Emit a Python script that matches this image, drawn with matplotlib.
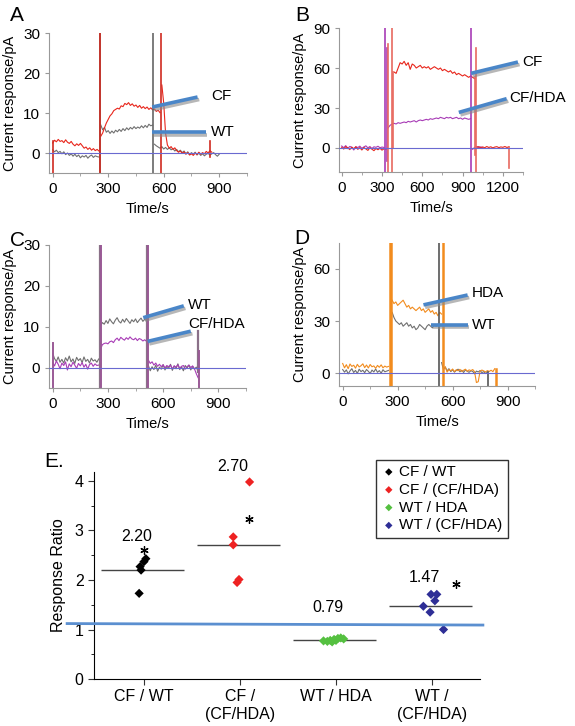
import numpy as np
import matplotlib.pyplot as plt
import matplotlib.patheffects as pe

plt.rcParams["font.family"] = ["Liberation Sans", "DejaVu Sans"]

RED = "#e8261c"
GRAY = "#707070"
PURPLE = "#a83cb6"
ORANGE = "#f28c1e"
TAGBLUE = "#4a86c8"
ZERO = "#6a6ad0"

# ---- panel A (WT vs CF), 10 s sampling ----
a_cf_t0 = [0, 260, 590]
a_cf = [
    [2.5, 3.2, 2.8, 3.4, 2.9, 3.1, 2.6, 3.3, 2.7, 2.4, 2.9, 2.2, 1.8, 2.3, 1.9, 2.4,
     1.8, 1.2, 1.5, 0.9, 1.3, 0.7, 1.1, 0.6, 0.9, 0.5],
    [4.2, 5.0, 6.3, 7.5, 8.4, 9.3, 9.8, 10.6, 10.9, 11.2, 11.0, 11.8, 11.6, 12.4, 12.1,
     12.6, 11.9, 12.3, 11.7, 12.0, 11.4, 11.9, 11.2, 11.6, 11.1, 11.5, 10.9, 11.3, 10.8,
     11.0, 10.4, 10.7, 10.1],
    [17.0, 12.5, 5.0, 2.0, 1.2, 1.6, 0.9, 1.3, 0.6, 0.2, 0.5, -0.1, 0.3, -0.3, 0.1, -0.5,
     -0.2, -0.6, 0.0, -0.4, 0.2, -0.3, 0.1, -0.2, 0.4, 0.0, 0.6, 0.2],
]
a_wt_t0 = [0, 260, 550]
a_wt = [
    [0.8, 0.3, 0.7, 0.1, 0.4, -0.2, 0.3, -0.4, 0.0, -0.6, -0.2, -0.8, -0.3, -0.9, -0.5,
     -1.2, -0.7, -1.0, -0.6, -1.3, -0.8, -0.5, -1.1, -0.7, -0.9, -1.0],
    [7.0, 5.8, 6.4, 5.2, 5.6, 4.9, 5.5, 5.0, 5.7, 5.3, 5.9, 5.4, 6.1, 5.6, 6.3, 5.8, 6.4,
     6.0, 6.6, 6.1, 6.5, 6.2, 6.8, 6.3, 6.9, 6.4, 7.2, 6.8, 7.0],
    [2.2, 1.8, 1.5, 1.2, 1.6, 1.0, 1.4, 0.9, 1.3, 0.8, 1.1, 0.5, 0.9, 0.3, 0.7, 0.1, 0.5,
     -0.2, 0.3, -0.4, 0.1, -0.3, 0.2, -0.5, 0.0, -0.6, -0.2, -0.7, -0.3, -0.1, -0.5, -0.2,
     0.1, -0.4, -0.8, -0.3],
]
a_cf_spikes = [(0, -5, 3), (255, -5, 30), (588, -5, 30), (850, -1, 3)]
a_wt_spikes = [(258, -5, 30), (540, -5, 30)]

# ---- panel B (CF vs CF/HDA), 15 s sampling ----
b_cf_t0 = [0, 390, 1005]
b_cf = [
    [0.5, -0.8, 1.0, 0.2, -1.2, 0.6, -0.5, 0.9, -1.0, 0.3, -1.5, 0.4, -0.7, -1.8, 0.2,
     -0.9, -2.0, -0.4, -1.3, -0.2, -1.6, -0.6, -1.0],
    [57, 56, 60, 64, 63, 65, 62, 64, 59, 63, 62, 60, 61, 62, 60, 61, 60, 61, 59, 60, 61,
     60, 59, 60, 58, 59, 58, 57, 58, 56, 57, 55, 56, 55, 54, 55, 54, 53, 54, 53, 52],
    [0.5, 1.0, 0.3, 0.8, 0.2, 1.1, 0.4, 0.9, 0.1, 0.7, 1.0, 0.3, 0.8, 0.5, 1.1, 0.4, 0.9],
]
b_hda_t0 = [0, 345, 975]
b_hda = [
    [1.5, 0.2, 1.8, -0.5, 1.2, 0.6, -1.5, 1.0, 0.3, 1.4, -0.3, 0.8, 1.6, 0.1, 1.1, -0.4,
     0.9, 0.5, 1.3, 0.2, 0.7, 0.4],
    [15, 17, 18, 18.5, 18, 19, 18.5, 19, 19.5, 19, 20, 19.5, 20, 20.5, 19.5, 20.5, 21,
     20.5, 21, 21.5, 21, 22, 21.5, 22, 22.5, 22, 23, 22.5, 22, 23, 22.5, 23, 22, 22.5, 23,
     22, 22.5, 21.5, 22.5, 22, 21.5, 22],
    [-1.0, 0.5, 1.2, 0.3, 0.8, 0.2],
]
b_cf_spikes = [(345, -18, 78), (372, -18, 90), (380, 0, 57), (993, -5, 53),
               (1003, -18, 75), (1248, -15, 1)]
b_hda_spikes = [(322, -18, 90), (335, -10, 75), (966, -18, 90)]

# ---- panel C (WT vs CF/HDA), 10 s sampling ----
c_wt_t0 = [0, 260, 520]
c_wt = [
    [3.5, 2.2, 1.5, 2.6, 1.3, 2.0, 1.1, 2.4, 1.6, 2.8, 1.4, 2.1, 1.0, 2.5, 1.7, 2.2, 1.2,
     2.6, 1.5, 2.0, 1.1, 2.3, 1.6, 1.9, 1.3, 2.1],
    [10.2, 11.0, 10.6, 11.5, 10.8, 11.9, 11.2, 10.7, 11.6, 12.2, 11.3, 10.9, 11.8, 11.1,
     12.0, 11.4, 10.8, 11.7, 11.2, 11.9, 11.0, 11.6, 12.1, 11.3, 11.8, 11.5],
    [0.5, -0.8, 0.2, -0.5, 0.6, -0.9, 0.1, -0.4, 0.7, -0.6, 0.3, -0.2, 0.8, -0.7, 0.4,
     -0.3, 0.9, -0.5, 0.2, -0.8, 0.5, -0.1, 0.6, -0.6, 0.3, -0.4, 0.1, -0.9],
]
c_hda_t0 = [0, 260, 520]
c_hda = [
    [1.2, 0.4, 1.6, 0.8, -0.3, 1.1, 0.5, 1.4, -0.6, 0.9, 0.2, 1.3, 0.6, -0.2, 1.0, 0.4,
     1.2, 0.1, 0.8, -0.4, 0.7, 1.1, 0.3, 0.9, 0.5, 0.6],
    [4.5, 5.6, 5.9, 6.0, 5.8, 6.3, 6.5, 6.1, 6.8, 7.2, 6.6, 7.4, 7.0, 6.7, 7.3, 6.9, 7.5,
     7.0, 6.8, 7.2, 6.6, 7.1, 6.9, 6.5, 6.8, 6.4],
    [1.8, 1.0, 1.4, 0.6, 1.1, 0.3, 0.8, 0.2, 0.7, -0.1, 0.5, 0.2, 0.6, -0.3, 0.4, 0.1,
     0.7, -0.2, 0.3, 0.5, -0.4, 0.2, 0.6, 0.0, 0.4, -0.3, -1.5, -2.5],
]
c_wt_spikes = [(256, -5, 30), (514, -5, 30), (788, -1, 9)]
c_hda_spikes = [(0, -5, 6), (260, -5, 30), (519, -5, 30), (795, -5, 4)]

# ---- panel D (WT vs HDA), 10 s sampling ----
d_hda_t0 = [0, 270, 560]
d_hda = [
    [5.5, 3.0, 4.8, 2.5, 5.2, 3.8, 4.5, 2.8, 5.0, 3.5, 4.2, 5.3, 3.1, 4.6, 2.9, 4.9, 3.6,
     4.1, 2.7, 4.4, 3.3, 4.7, 3.0, 4.0, 3.4, 3.8],
    [42, 40, 41, 39, 40, 41, 42, 40, 38, 39, 37, 38, 37, 36, 37, 38, 36, 37, 35, 36, 37,
     35, 36, 34, 35, 33, 35, 34],
    [3.5, 0.5, 2.0, 1.2, 2.3, 0.8, 1.9, 1.3, 2.1, 0.9, 1.6, 2.2, 1.0, 1.8, 1.4, 2.0, 0.7,
     -5.5, -5.0, 1.1, 1.7, 1.2, 0.6, 1.4, 0.9, 1.6, 0.8, 2.5],
]
d_wt_t0 = [0, 270, 540]
d_wt = [
    [2.0, 0.5, 1.8, -0.5, 1.2, 2.5, 0.3, 1.5, -0.2, 2.2, 0.8, 1.6, 0.2, 2.0, 1.0, -0.3,
     1.7, 0.6, 2.3, 0.4, 1.4, -0.1, 1.9, 0.7, 1.1, 1.5],
    [35, 32, 30, 29, 28, 29, 27, 28, 29, 27, 28, 26, 27, 25, 26, 28, 27, 26, 25, 27, 28,
     27, 26, 28, 27, 28],
    [6.0, 2.0, 3.5, 1.2, 2.5, 0.8, 1.9, 0.5, 1.5, 2.2, 0.7, 1.6, 0.3, 1.8, 1.0, 0.4, 1.3,
     0.9, -0.5, 1.1, 0.6, 1.4, 0.2, 0.8, -0.3, 0.5],
]
d_hda_spikes = [(260, -7.5, 75), (265, -7.5, 75), (546, -7.5, 75), (835, -7.5, 2.5)]
d_wt_spikes = [(262, 0, 75), (528, -7.5, 75), (792, -7.5, 0.5)]

# ---- panel E ----
groups = ["CF / WT", "CF /\n(CF/HDA)", "WT / HDA", "WT /\n(CF/HDA)"]
legend_names = ["CF / WT", "CF / (CF/HDA)", "WT / HDA", "WT / (CF/HDA)"]
group_colors = ["black", "#ee2222", "#55c040", "#2e2e96"]
jitter = [
    [-0.05, -0.04, -0.03, 0.0, 0.02],
    [-0.07, -0.07, -0.03, -0.01, 0.10],
    [-0.13, -0.09, -0.06, -0.04, -0.02, 0.0, 0.02, 0.05, 0.08],
    [-0.09, -0.02, -0.01, 0.05, 0.03, 0.12],
]
ratios = [
    [1.73, 2.27, 2.20, 2.37, 2.43],
    [2.87, 2.71, 1.95, 2.01, 3.98],
    [0.77, 0.76, 0.78, 0.75, 0.80, 0.78, 0.82, 0.83, 0.81],
    [1.47, 1.35, 1.71, 1.71, 1.58, 1.00],
]
means = [2.20, 2.70, 0.79, 1.47]
mean_label_y = [2.87, 4.30, 1.45, 2.06]
stars = [(0.0, 2.60), (1.09, 3.24), (3.25, 1.92)]


def traces(ax, starts, segs, color, step):
    for t0, vals in zip(starts, segs):
        t = t0 + step * np.arange(len(vals))
        ax.plot(t, vals, color=color, lw=0.8)


def spikes(ax, items, color, lw=1.2):
    for t, lo, hi in items:
        ax.plot([t, t], [lo, hi], color=color, lw=lw)


def tag(ax, x0, y0, x1, y1, text, tx, ty):
    ax.plot([x0, x1], [y0, y1], color=TAGBLUE, lw=2.6, solid_capstyle="butt",
            clip_on=False, zorder=5,
            path_effects=[pe.SimpleLineShadow(offset=(1.2, -1.8), shadow_color="#888",
                                              alpha=0.6), pe.Normal()])
    ax.text(tx, ty, text, fontsize=11, ha="left", va="center", clip_on=False)


def setup(ax, xlim, ylim, xticks, yticks):
    ax.set_xlim(xlim)
    ax.set_ylim(ylim)
    ax.set_xticks(xticks)
    ax.set_xticks([x + 150 for x in xticks], minor=True)
    ax.set_yticks(yticks)
    for s in ["top", "right"]:
        ax.spines[s].set_visible(False)
    for s in ["left", "bottom"]:
        ax.spines[s].set_color("#999999")
        ax.spines[s].set_linewidth(0.8)
    ax.tick_params(labelsize=11, color="#999999", length=3, width=0.8)
    ax.tick_params(which="minor", color="#999999", length=2, width=0.6)
    ax.axhline(0, color=ZERO, lw=0.8, zorder=4)
    ax.set_xlabel("Time/s", fontsize=10.5)
    ax.set_ylabel("Current response/pA", fontsize=10.5)


fig = plt.figure(figsize=(5.75, 7.26), dpi=100)

# A
ax = fig.add_axes([0.0852, 0.7617, 0.3443, 0.1928])
setup(ax, (-20, 950), (-5, 30), [0, 300, 600, 900], [0, 10, 20, 30])
traces(ax, a_wt_t0, a_wt, GRAY, 10)
traces(ax, a_cf_t0, a_cf, RED, 10)
spikes(ax, a_wt_spikes, "#666666")
spikes(ax, a_cf_spikes, "#d02a20")
tag(ax, 538, 11.5, 783, 14, "CF", 856, 14.3)
tag(ax, 538, 5.2, 826, 5.2, "WT", 856, 5.2)
fig.text(0.03, 0.979, "A", fontsize=15, ha="center", va="center")

# B
ax = fig.add_axes([0.5896, 0.7631, 0.3200, 0.1983])
setup(ax, (-20, 1265), (-18, 90), [0, 300, 600, 900, 1200], [0, 30, 60, 90])
traces(ax, b_hda_t0, b_hda, PURPLE, 15)
traces(ax, b_cf_t0, b_cf, RED, 15)
spikes(ax, b_hda_spikes, PURPLE)
spikes(ax, b_cf_spikes, "#e86a60")
tag(ax, 963, 56, 1312, 64.5, "CF", 1345, 64.5)
tag(ax, 872, 26.7, 1228, 37, "CF/HDA", 1245, 37.5)
fig.text(0.525, 0.979, "B", fontsize=15, ha="center", va="center")

# C
ax = fig.add_axes([0.0852, 0.4656, 0.3426, 0.1970])
setup(ax, (-20, 905), (-5, 30), [0, 300, 600, 900], [0, 10, 20, 30])
traces(ax, c_wt_t0, c_wt, GRAY, 10)
traces(ax, c_hda_t0, c_hda, PURPLE, 10)
spikes(ax, c_wt_spikes, "#8a7088", lw=1.6)
spikes(ax, c_hda_spikes, "#9a5a96", lw=1.4)
tag(ax, 492, 12.2, 712, 15.1, "WT", 735, 15.4)
tag(ax, 516, 6.4, 750, 8.9, "CF/HDA", 735, 10.6)
fig.text(0.03, 0.669, "C", fontsize=15, ha="center", va="center")

# D
ax = fig.add_axes([0.5896, 0.4683, 0.3409, 0.1970])
setup(ax, (-20, 900), (-7.5, 75), [0, 300, 600, 900], [0, 30, 60])
traces(ax, d_wt_t0, d_wt, GRAY, 10)
traces(ax, d_hda_t0, d_hda, ORANGE, 10)
spikes(ax, d_wt_spikes, "#555555")
spikes(ax, d_hda_spikes, ORANGE, lw=1.8)
tag(ax, 441, 39.3, 682, 45, "HDA", 705, 46)
tag(ax, 482, 27.7, 682, 27.7, "WT", 705, 27.7)
fig.text(0.525, 0.672, "D", fontsize=15, ha="center", va="center")

# E
ax = fig.add_axes([0.1635, 0.0647, 0.6713, 0.2851])
ax.set_xlim(-0.52, 3.5)
ax.set_ylim(0, 4.18)
for i in range(len(groups)):
    ax.scatter([i + j for j in jitter[i]], ratios[i], marker="D", s=22,
               color=group_colors[i], edgecolors="none", zorder=3, label=legend_names[i])
    ax.hlines(means[i], i - 0.45, i + 0.42, color="#444444", lw=1, zorder=2)
    ax.text(i - 0.08, mean_label_y[i], f"{means[i]:.2f}", fontsize=11.5,
            ha="center", va="center", clip_on=False)
ax.plot([s[0] for s in stars], [s[1] for s in stars], linestyle="none",
        marker=(6, 2, 0), ms=6, mew=0.9, color="black")
ax.plot([-0.8, 3.53], [1.12, 1.09], color="#5b8fd0", lw=2, clip_on=False, zorder=4)
ax.set_xticks(range(len(groups)))
ax.set_xticklabels(groups, fontsize=11.5)
ax.set_yticks([0, 1, 2, 3, 4])
ax.set_yticks([0.5, 1.5, 2.5, 3.5], minor=True)
ax.tick_params(labelsize=11.5, length=4, color="#333333")
ax.tick_params(which="minor", length=2.5)
for s in ["top", "right"]:
    ax.spines[s].set_visible(False)
ax.set_ylabel("Response Ratio", fontsize=11.5, labelpad=6)
leg = ax.legend(loc="upper left", bbox_to_anchor=(0.73, 1.06), fontsize=11,
                frameon=True, fancybox=False, edgecolor="black", handletextpad=0.2,
                handlelength=1.0, borderpad=0.35, labelspacing=0.25, markerscale=0.8,
                borderaxespad=0)
leg.get_frame().set_linewidth(1.0)
fig.text(0.095, 0.364, "E.", fontsize=15, ha="center", va="center")

fig.savefig("out.png", dpi=100)
